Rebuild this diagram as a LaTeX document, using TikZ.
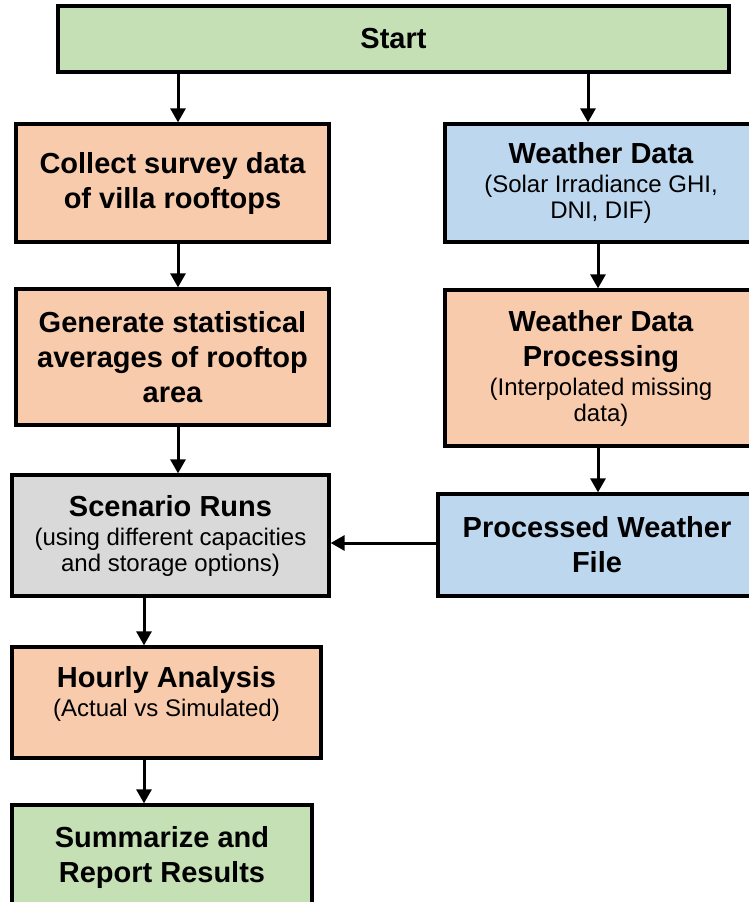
\documentclass[tikz,border=0pt]{standalone}
\usepackage{fontspec}
\setmainfont{Liberation Sans}
\usetikzlibrary{arrows.meta}

\definecolor{startgreen}{HTML}{C5E0B4}
\definecolor{orangebox}{HTML}{F8CBAD}
\definecolor{bluebox}{HTML}{BDD7EE}
\definecolor{greybox}{HTML}{D9D9D9}

\newcommand{\hd}[1]{{\bfseries\fontsize{29}{35}\selectfont #1}}
\newcommand{\boxfont}{\fontsize{24}{26}\selectfont\setlength{\lineskiplimit}{-50pt}}

\tikzset{
  flowbox/.style={draw=black, line width=3.3pt, inner sep=0pt, align=center,
    font=\boxfont},
  flowarrow/.style={line width=3pt, -{Triangle[width=15pt,length=14pt]}}
}

\begin{document}
\begin{tikzpicture}[x=1pt,y=1pt]
\useasboundingbox (0,0) rectangle (748,-902);

% Boxes, left column
\node[flowbox, fill=startgreen, minimum width=671, minimum height=66] (start) at (393.5,-39) {\hd{Start}};
\node[flowbox, fill=orangebox, minimum width=313, minimum height=118] (collect) at (172.5,-183) {\hd{Collect survey data}\\[9pt]\hd{of villa rooftops}};
\node[flowbox, fill=orangebox, minimum width=313, minimum height=136] (generate) at (172.5,-357) {\hd{Generate statistical}\\[9pt]\hd{averages of rooftop}\\[9pt]\hd{area}};
\node[flowbox, fill=greybox, minimum width=317, minimum height=121] (scenario) at (170.5,-535.5) {\hd{Scenario Runs}\\[3pt](using different capacities\\and storage options)};
\node[flowbox, fill=orangebox, minimum width=309, minimum height=111] (hourly) at (166.5,-702.5) {};
\node[font=\boxfont, align=center, inner sep=0pt] (hourlytext) at ([yshift=9]hourly.center) {\hd{Hourly Analysis}\\[3pt](Actual vs Simulated)};
\node[flowbox, fill=startgreen, minimum width=300, minimum height=105] (summary) at (162,-857.5) {\hd{Summarize and}\\[9pt]\hd{Report Results}};

% Boxes, right column
\node[flowbox, fill=bluebox, minimum width=312, minimum height=118] (weather) at (601,-183) {\hd{Weather Data}\\[3pt](Solar Irradiance GHI,\\DNI, DIF)};
\node[flowbox, fill=orangebox, minimum width=312, minimum height=156] (processing) at (601,-368) {\hd{Weather Data}\\[9pt]\hd{Processing}\\[3pt](Interpolated missing\\data)};
\node[flowbox, fill=bluebox, minimum width=318, minimum height=102] (processed) at (597,-545) {\hd{Processed Weather}\\[9pt]\hd{File}};

% Arrow columns
\coordinate (colL) at (178,0);
\coordinate (colH) at (144,0);
\coordinate (colR) at (588,0);
\coordinate (colP) at (598,0);

% Arrows
\draw[flowarrow] (start.south -| colL) -- (collect.north -| colL);
\draw[flowarrow] (start.south -| colR) -- (weather.north -| colR);
\draw[flowarrow] (collect.south -| colL) -- (generate.north -| colL);
\draw[flowarrow] (generate.south -| colL) -- (scenario.north -| colL);
\draw[flowarrow] (scenario.south -| colH) -- (hourly.north -| colH);
\draw[flowarrow] (hourly.south -| colH) -- (summary.north -| colH);
\draw[flowarrow] (weather.south -| colP) -- (processing.north -| colP);
\draw[flowarrow] (processing.south -| colP) -- (processed.north -| colP);
\draw[flowarrow] (processed.west |- 0,-543) -- (scenario.east |- 0,-543);
\end{tikzpicture}
\end{document}
